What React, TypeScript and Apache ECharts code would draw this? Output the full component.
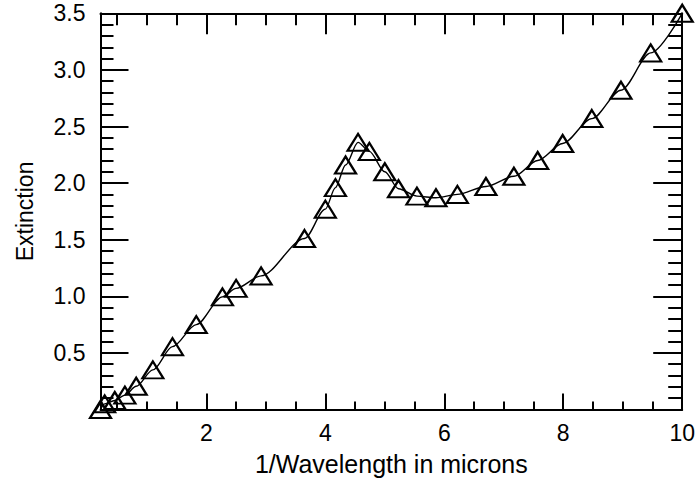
import React, { useEffect, useRef } from "react";
import * as echarts from "echarts";

const xValues = [0.22, 0.29, 0.46, 0.63, 0.82, 1.10, 1.43, 1.83, 2.27, 2.50, 2.92, 3.65, 4.00, 4.17, 4.34, 4.55, 4.74, 5.00, 5.23, 5.54, 5.86, 6.22, 6.70, 7.17, 7.57, 7.99, 8.48, 8.97, 9.47, 10.0];
const yValues = [0.0, 0.05, 0.08, 0.127, 0.205, 0.35, 0.555, 0.75, 0.995, 1.07, 1.18, 1.51, 1.77, 1.96, 2.16, 2.36, 2.28, 2.10, 1.95, 1.885, 1.87, 1.90, 1.97, 2.06, 2.20, 2.35, 2.57, 2.82, 3.15, 3.5];

const xMajorTicks = [2, 4, 6, 8, 10];
const xMinorTicks = [0.5, 1, 1.5, 2.5, 3, 3.5, 4.5, 5, 5.5, 6.5, 7, 7.5, 8.5, 9, 9.5];
const yLabelTicks = [0.5, 1.0, 1.5, 2.0, 2.5, 3.0, 3.5];

const xTitle = "1/Wavelength in microns";
const yTitle = "Extinction";

const FONT = "'Liberation Sans', Arial, Helvetica, sans-serif";

export default function App() {
  const ref = useRef<HTMLDivElement>(null);

  useEffect(() => {
    if (!ref.current) return;
    const chart = echarts.init(ref.current, undefined, { renderer: "svg" });
    const data = xValues.map((x, i) => [x, yValues[i]]);
    const axisLine = { show: true, lineStyle: { color: "#000", width: 2 } };
    const xBase = (position: string, ticks: number[], len: number, labels: boolean, line: boolean, name?: string) => ({
      type: "value",
      position,
      min: 0.22,
      max: 10,
      axisLine: { ...axisLine, show: line },
      axisTick: { show: true, inside: true, length: len, customValues: ticks, lineStyle: { color: "#000", width: 2 } },
      axisLabel: labels
        ? { show: true, customValues: ticks, color: "#000", fontSize: 23, fontFamily: FONT, margin: 12 }
        : { show: false },
      splitLine: { show: false },
      name: name,
      nameLocation: "middle",
      nameGap: 54,
      nameTextStyle: { color: "#000", fontSize: 25, fontFamily: FONT, verticalAlign: "middle" },
    });
    chart.setOption({
      animation: false,
      backgroundColor: "#fff",
      grid: { left: 100.5, top: 13.3, right: 15, bottom: 70.3, containLabel: false },
      xAxis: [
        xBase("bottom", xMajorTicks, 16, true, true, xTitle),
        xBase("bottom", xMinorTicks, 8, false, false),
        xBase("top", xMajorTicks, 21, false, true),
        xBase("top", xMinorTicks, 12, false, false),
      ],
      yAxis: [
        {
          type: "value",
          position: "left",
          min: 0,
          max: 3.5,
          interval: 0.5,
          axisLine,
          axisTick: { show: true, inside: true, length: 28, lineStyle: { color: "#000", width: 2 } },
          minorTick: { show: true, splitNumber: 5, length: 13, lineStyle: { color: "#000", width: 2 } },
          axisLabel: {
            show: true,
            customValues: yLabelTicks,
            color: "#000",
            fontSize: 23,
            fontFamily: FONT,
            margin: 15,
            padding: [6, 0, 0, 0],
            formatter: (v: number) => v.toFixed(1),
          },
          splitLine: { show: false },
          minorSplitLine: { show: false },
          name: yTitle,
          nameLocation: "middle",
          nameGap: 76,
          nameRotate: 90,
          nameTextStyle: { color: "#000", fontSize: 23, fontFamily: FONT, verticalAlign: "middle" },
        },
        {
          type: "value",
          position: "right",
          min: 0,
          max: 3.5,
          interval: 0.5,
          axisLine,
          axisTick: { show: true, inside: true, length: 29, lineStyle: { color: "#000", width: 2 } },
          minorTick: { show: true, splitNumber: 5, length: 14, lineStyle: { color: "#000", width: 2 } },
          axisLabel: { show: false },
          splitLine: { show: false },
          minorSplitLine: { show: false },
        },
      ],
      series: [
        {
          type: "line",
          xAxisIndex: 0,
          yAxisIndex: 0,
          data,
          smooth: 0.3,
          smoothMonotone: "x",
          symbol: "triangle",
          symbolSize: [21, 17],
          showAllSymbol: true,
          lineStyle: { color: "#000", width: 1.4 },
          itemStyle: { color: "rgba(255,255,255,0)", borderColor: "#000", borderWidth: 2.2 },
          z: 5,
        },
      ],
    });
    return () => chart.dispose();
  }, []);

  return <div ref={ref} style={{ position: "fixed", left: 0, top: 0, width: 698, height: 481 }} />;
}
